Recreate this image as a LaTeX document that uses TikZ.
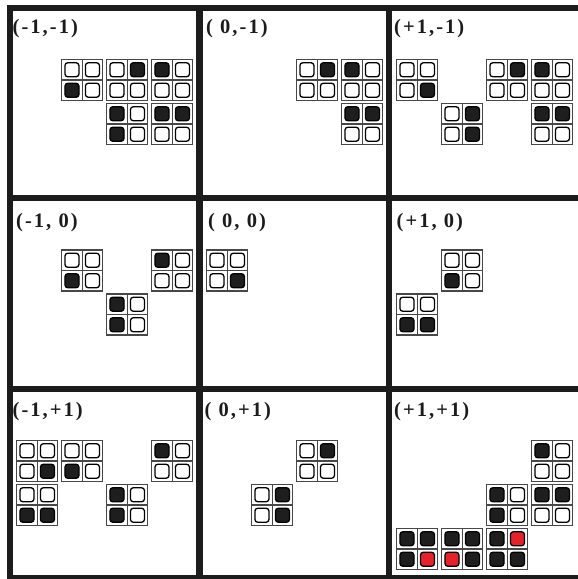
\documentclass[tikz,border=0pt]{standalone}
\usepackage{fontspec}
\newfontfamily\labfont[LetterSpace=10]{Liberation Serif}
\definecolor{framecol}{HTML}{1C1C1C}
\colorlet{c0}{white}
\definecolor{c1}{HTML}{1E1E1E}
\definecolor{c2}{HTML}{E3232B}
\tikzset{
  frameline/.style={draw=framecol, line width=6.5pt, line cap=rect},
  cellgrid/.style={draw=black!72, line width=1.1pt},
  cellin/.style={draw=black, line width=1.3pt, rounded corners=3pt},
  lab/.style={anchor=base west, inner sep=0pt, font=\labfont\bfseries\fontsize{20.5}{23}\selectfont, text=framecol}
}
% #1 panel col, #2 panel row, #3 slot col, #4 slot row, #5..#8 TL TR BL BR
\newcommand\qblk[8]{%
  \pgfmathsetmacro\qx{16.7+190*#1+45*#3}%
  \pgfmathsetmacro\qy{59.5+190.5*#2+44*#4}%
  \begin{scope}[shift={(\qx,\qy)}]
    \draw[cellin,fill=c#5] (3.2,3.2) rectangle (17.3,17.3);
    \draw[cellin,fill=c#6] (23.7,3.2) rectangle (37.8,17.3);
    \draw[cellin,fill=c#7] (3.2,23.7) rectangle (17.3,37.8);
    \draw[cellin,fill=c#8] (23.7,23.7) rectangle (37.8,37.8);
    \draw[cellgrid] (0,0) rectangle (41,41) (20.5,0) -- (20.5,41) (0,20.5) -- (41,20.5);
  \end{scope}}
\begin{document}
\begin{tikzpicture}[x=1pt,y=-1pt]
\useasboundingbox (0,0) rectangle (578,579);
\clip (0,0) rectangle (578,579);
\fill[white] (0,0) rectangle (578,579);
% panel (-1,-1)
\qblk{0}{0}{1}{0}{0}{0}{1}{0}
\qblk{0}{0}{2}{0}{0}{1}{0}{0}
\qblk{0}{0}{3}{0}{1}{0}{0}{0}
\qblk{0}{0}{2}{1}{1}{0}{1}{0}
\qblk{0}{0}{3}{1}{1}{1}{0}{0}
% panel (0,-1)
\qblk{1}{0}{2}{0}{0}{1}{0}{0}
\qblk{1}{0}{3}{0}{1}{0}{0}{0}
\qblk{1}{0}{3}{1}{1}{1}{0}{0}
% panel (+1,-1)
\qblk{2}{0}{0}{0}{0}{0}{0}{1}
\qblk{2}{0}{2}{0}{0}{1}{0}{0}
\qblk{2}{0}{3}{0}{1}{0}{0}{0}
\qblk{2}{0}{1}{1}{0}{1}{0}{1}
\qblk{2}{0}{3}{1}{1}{1}{0}{0}
% panel (-1,0)
\qblk{0}{1}{1}{0}{0}{0}{1}{0}
\qblk{0}{1}{3}{0}{1}{0}{0}{0}
\qblk{0}{1}{2}{1}{1}{0}{1}{0}
% panel (0,0)
\qblk{1}{1}{0}{0}{0}{0}{0}{1}
% panel (+1,0)
\qblk{2}{1}{1}{0}{0}{0}{1}{0}
\qblk{2}{1}{0}{1}{0}{0}{1}{1}
% panel (-1,+1)
\qblk{0}{2}{0}{0}{0}{0}{0}{1}
\qblk{0}{2}{1}{0}{0}{0}{1}{0}
\qblk{0}{2}{3}{0}{1}{0}{0}{0}
\qblk{0}{2}{0}{1}{0}{0}{1}{1}
\qblk{0}{2}{2}{1}{1}{0}{1}{0}
% panel (0,+1)
\qblk{1}{2}{2}{0}{0}{1}{0}{0}
\qblk{1}{2}{1}{1}{0}{1}{0}{1}
% panel (+1,+1)
\qblk{2}{2}{3}{0}{1}{0}{0}{0}
\qblk{2}{2}{2}{1}{1}{0}{1}{0}
\qblk{2}{2}{3}{1}{1}{1}{0}{0}
\qblk{2}{2}{0}{2}{1}{1}{1}{2}
\qblk{2}{2}{1}{2}{1}{1}{2}{1}
\qblk{2}{2}{2}{2}{1}{2}{1}{1}
% frame
\foreach \x in {10,199.5,389,581} \draw[frameline] (\x,8) -- (\x,578.5);
\foreach \y in {8,198,389,578.5} \draw[frameline] (10,\y) -- (581,\y);
% labels
\node[lab] (l00) at (12.5,33.3) {(-1,-1)};
\node[lab] (l10) at (206,33.3) {( 0,-1)};
\node[lab] (l20) at (394,33.3) {(+1,-1)};
\node[lab] (l01) at (16,227.5) {(-1, 0)};
\node[lab] (l11) at (208,227.5) {( 0, 0)};
\node[lab] (l21) at (396.5,227.5) {(+1, 0)};
\node[lab] (l02) at (12.5,416) {(-1,+1)};
\node[lab] (l12) at (204.5,416) {( 0,+1)};
\node[lab] (l22) at (394,416) {(+1,+1)};
\end{tikzpicture}
\end{document}
